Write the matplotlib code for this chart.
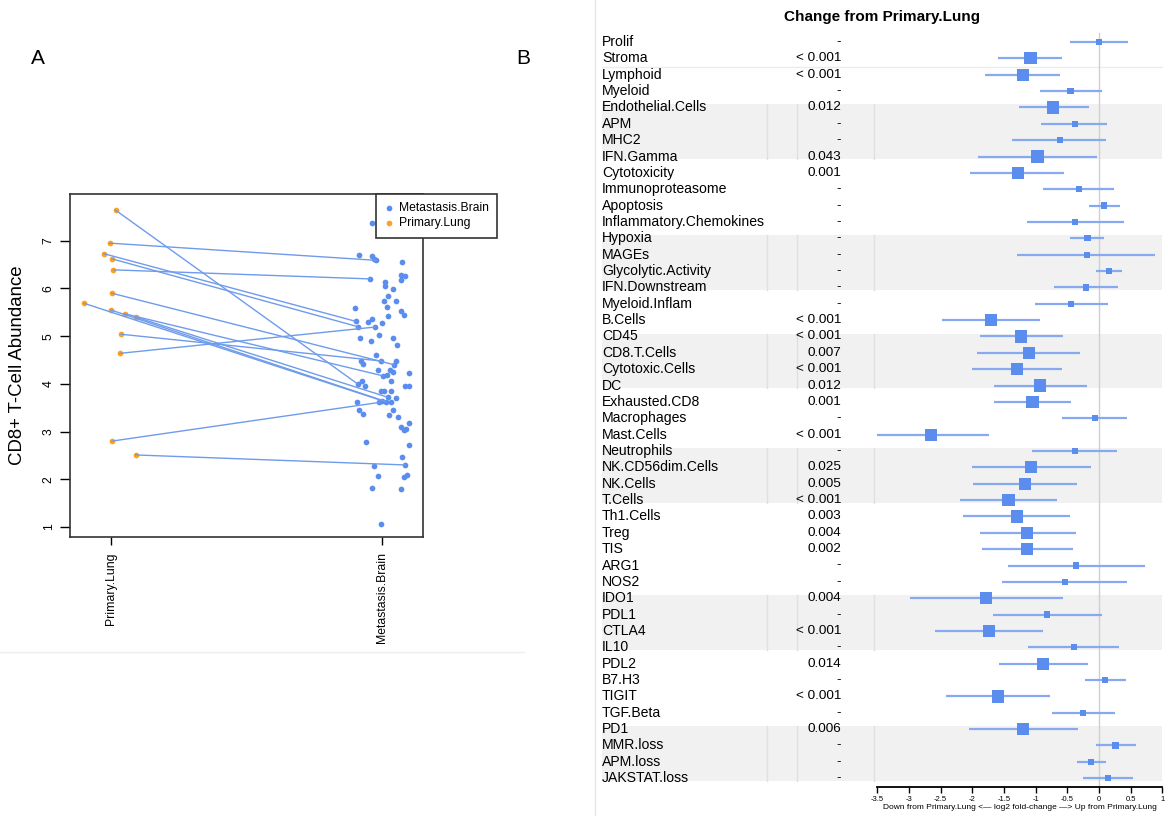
import numpy as np
import matplotlib.pyplot as plt
from matplotlib.patches import Rectangle
from matplotlib.transforms import blended_transform_factory

plt.rcParams['font.family'] = ['Liberation Sans', 'DejaVu Sans']

# ---------------- panel A data ----------------
primary_jitter = [0.018, -0.004, -0.026, 0.005, 0.010, 0.004, -0.099,
                  0.000, 0.051, 0.092, 0.038, 0.034, 0.004, 0.092]
primary_vals = [7.64, 6.95, 6.73, 6.62, 6.39, 5.90, 5.69,
                5.55, 5.47, 5.40, 5.04, 4.64, 2.80, 2.51]

brain_jitter = [0.961, 0.915, 0.962, 0.971, 0.977, 1.072, 1.069, 1.085, 0.956, 1.069,
                1.011, 1.011, 1.038, 1.020, 1.005, 1.050, 1.017, 0.901, 1.069, 1.081,
                1.022, 0.964, 0.903, 0.946, 0.998, 0.909, 0.972, 0.988, 0.919, 1.038,
                0.958, 1.056, 0.977, 0.922, 0.995, 0.928, 1.050, 1.044, 0.985, 1.029,
                1.097, 1.038, 1.017, 1.001, 1.032, 0.925, 0.909, 0.938, 1.085, 1.097,
                0.995, 1.005, 1.032, 1.050, 1.020, 0.906, 0.988, 0.998, 1.013, 1.032,
                0.913, 1.038, 0.928, 1.026, 1.059, 1.099, 1.069, 1.079, 1.087, 0.940,
                1.097, 1.071, 0.971, 1.085, 0.983, 1.090, 1.081, 0.962, 1.069, 0.995]
brain_vals = [7.38, 6.71, 6.67, 6.62, 6.59, 6.55, 6.29, 6.27, 6.20, 6.18,
              6.13, 6.06, 5.99, 5.85, 5.73, 5.73, 5.62, 5.60, 5.52, 5.45,
              5.43, 5.36, 5.31, 5.29, 5.27, 5.20, 5.19, 5.03, 4.96, 4.96,
              4.89, 4.82, 4.60, 4.48, 4.48, 4.42, 4.48, 4.40, 4.30, 4.30,
              4.23, 4.24, 4.19, 4.17, 4.07, 4.05, 4.00, 3.95, 3.95, 3.96,
              3.84, 3.84, 3.86, 3.70, 3.72, 3.63, 3.61, 3.65, 3.63, 3.61,
              3.46, 3.46, 3.37, 3.35, 3.30, 3.19, 3.09, 3.04, 3.05, 2.79,
              2.72, 2.46, 2.27, 2.30, 2.07, 2.09, 2.05, 1.81, 1.80, 1.06]

# matched samples: primary index -> brain index
pair_primary = [0, 1, 2, 3, 4, 5, 6, 7, 8, 9, 10, 11, 12, 13]
pair_brain = [46, 4, 22, 25, 8, 37, 57, 58, 43, 54, 34, 26, 56, 73]

group_labels = ['Primary.Lung', 'Metastasis.Brain']

# ---------------- panel B data ----------------
signatures = ['Prolif', 'Stroma', 'Lymphoid', 'Myeloid', 'Endothelial.Cells', 'APM', 'MHC2',
              'IFN.Gamma', 'Cytotoxicity', 'Immunoproteasome', 'Apoptosis',
              'Inflammatory.Chemokines', 'Hypoxia', 'MAGEs', 'Glycolytic.Activity',
              'IFN.Downstream', 'Myeloid.Inflam', 'B.Cells', 'CD45', 'CD8.T.Cells',
              'Cytotoxic.Cells', 'DC', 'Exhausted.CD8', 'Macrophages', 'Mast.Cells',
              'Neutrophils', 'NK.CD56dim.Cells', 'NK.Cells', 'T.Cells', 'Th1.Cells', 'Treg',
              'TIS', 'ARG1', 'NOS2', 'IDO1', 'PDL1', 'CTLA4', 'IL10', 'PDL2', 'B7.H3',
              'TIGIT', 'TGF.Beta', 'PD1', 'MMR.loss', 'APM.loss', 'JAKSTAT.loss']
log2fc = [0.00, -1.08, -1.20, -0.45, -0.72, -0.38, -0.62, -0.97, -1.28, -0.32, 0.08,
          -0.38, -0.18, -0.19, 0.16, -0.21, -0.44, -1.71, -1.23, -1.11, -1.30, -0.93,
          -1.05, -0.06, -2.65, -0.38, -1.07, -1.17, -1.43, -1.30, -1.14, -1.14, -0.36,
          -0.54, -1.78, -0.82, -1.74, -0.40, -0.88, 0.09, -1.60, -0.25, -1.20, 0.26,
          -0.12, 0.14]
ci_low = [-0.46, -1.59, -1.80, -0.93, -1.27, -0.91, -1.37, -1.91, -2.03, -0.89, -0.16,
          -1.14, -0.45, -1.29, -0.04, -0.71, -1.01, -2.48, -1.88, -1.92, -2.01, -1.66,
          -1.66, -0.58, -3.57, -1.05, -2.01, -1.99, -2.19, -2.14, -1.88, -1.85, -1.44,
          -1.53, -2.99, -1.68, -2.59, -1.12, -1.58, -0.22, -2.42, -0.74, -2.06, -0.05,
          -0.35, -0.26]
ci_high = [0.46, -0.58, -0.61, 0.04, -0.16, 0.13, 0.11, -0.03, -0.55, 0.24, 0.33,
           0.39, 0.08, 0.88, 0.37, 0.30, 0.14, -0.93, -0.57, -0.30, -0.59, -0.19,
           -0.44, 0.45, -1.73, 0.28, -0.13, -0.35, -0.66, -0.45, -0.37, -0.41, 0.73,
           0.44, -0.57, 0.04, -0.88, 0.32, -0.18, 0.42, -0.78, 0.25, -0.33, 0.58,
           0.11, 0.54]
pvals = ['-', '< 0.001', '< 0.001', '-', '0.012', '-', '-', '0.043', '0.001', '-', '-',
         '-', '-', '-', '-', '-', '-', '< 0.001', '< 0.001', '0.007', '< 0.001', '0.012',
         '0.001', '-', '< 0.001', '-', '0.025', '0.005', '< 0.001', '0.003', '0.004',
         '0.002', '-', '-', '0.004', '-', '< 0.001', '-', '0.014', '-', '< 0.001', '-',
         '0.006', '-', '-', '-']
shaded_groups = [(4, 7), (12, 15), (18, 21), (25, 28), (34, 37), (42, 45)]

W, H = 1168, 816
fig = plt.figure(figsize=(W / 100, H / 100), dpi=100)


def rect(x0, y0, x1, y1):
    # pixel box (top-left origin) -> figure fraction
    return [x0 / W, 1 - y1 / H, (x1 - x0) / W, (y1 - y0) / H]


# full-figure layer for decorations, in pixels
bg = fig.add_axes([0, 0, 1, 1])
bg.set_xlim(0, W)
bg.set_ylim(H, 0)
bg.axis('off')
bg.text(38, 58, 'A', fontsize=15, ha='center', va='center')
bg.text(523, 58, 'B', fontsize=15, ha='center', va='center')
bg.plot([595, 595], [0, H], color='#e6e6e6', lw=1)
bg.plot([0, 524], [652, 652], color='#eeeeee', lw=1)

# ---------------- panel A ----------------
ax = fig.add_axes(rect(70, 194, 423, 537))
blue_pt = '#5b8def'
line_c = '#6f9bec'
orange = '#ffa21f'
ax.scatter(brain_jitter, brain_vals, s=17, color=blue_pt, lw=0, zorder=2,
           label='Metastasis.Brain')
ax.scatter(primary_jitter, primary_vals, s=17, color=orange, lw=0, zorder=2,
           label='Primary.Lung')
for i, j in zip(pair_primary, pair_brain):
    ax.plot([primary_jitter[i], brain_jitter[j]], [primary_vals[i], brain_vals[j]],
            color=line_c, lw=1, zorder=3)

ax.set_xlim(-0.15, 1.15)
ax.set_ylim(0.79, 7.98)
ax.set_xticks([0, 1])
ax.set_xticklabels(group_labels, rotation=90, fontsize=8.8, va='top')
ax.set_yticks(range(1, 8))
ax.set_yticklabels([str(v) for v in range(1, 8)], rotation=90, fontsize=8.8, va='center')
ax.tick_params(axis='y', length=7, width=1, pad=4)
ax.tick_params(axis='x', length=6, width=1, pad=5)
for s in ax.spines.values():
    s.set_linewidth(1.2)
    s.set_color('#333333')
ax.set_ylabel('CD8+ T-Cell Abundance', fontsize=13.4)
ax.yaxis.set_label_coords(-0.125, 0.5)
leg = ax.legend(loc='upper left', bbox_to_anchor=(0.867, 1.0), borderaxespad=0,
                fontsize=8.7, frameon=True, fancybox=False, edgecolor='#333333',
                framealpha=1, handlelength=0.8, handletextpad=0.4, borderpad=0.7,
                labelspacing=0.25, scatterpoints=1)
leg.get_frame().set_linewidth(1.2)
leg.set_zorder(5)

# ---------------- panel B ----------------
n = len(signatures)
rows = np.arange(n)
fa = fig.add_axes(rect(877.3, 33, 1162.3, 787.3))
fa.patch.set_alpha(0)
fa.set_xlim(-3.5, 1)
fa.set_ylim((787.3 - 42) / 16.36, (33 - 42) / 16.36)
for side in ['top', 'right', 'left']:
    fa.spines[side].set_visible(False)
fa.spines['bottom'].set_linewidth(1.3)
fa.set_yticks([])
fa.axvline(0, color='#cfcfcf', lw=1, zorder=1)
fa.hlines(rows, ci_low, ci_high, color='#86a9ef', lw=1.6, zorder=2)
sizes = [78 if p != '-' else 20 for p in pvals]
fa.scatter(log2fc, rows, marker='s', s=sizes, color='#5b8def', lw=0, zorder=3)
ticks = np.arange(-3.5, 1.01, 0.5)
fa.set_xticks(ticks)
fa.set_xticklabels(['%g' % t for t in ticks], fontsize=5.5)
fa.tick_params(axis='x', length=4, width=1, pad=2)
fa.set_xlabel('Down from Primary.Lung <\u2014 log2 fold-change \u2014> Up from Primary.Lung',
              fontsize=6, labelpad=1)

trans = blended_transform_factory(bg.transData, fa.transData)
for a, b in shaded_groups:
    bg.add_patch(Rectangle((602, a - 0.18), 1162 - 602, (b - a) + 0.33,
                           transform=trans, color='#f1f1f1', lw=0, zorder=0))
    for xd in [767, 797, 874]:
        bg.plot([xd, xd], [a - 0.18, b + 0.15], transform=trans, color='#e0e0e0',
                lw=1, zorder=1)
bg.plot([602, 1162], [1.53, 1.53], transform=trans, color='#ececec', lw=1, zorder=1)

for i, (lab, p) in enumerate(zip(signatures, pvals)):
    bg.text(602, i, lab, transform=trans, fontsize=10.1, va='center', ha='left', zorder=2)
    bg.text(841, i, p, transform=trans, fontsize=9.7, va='center', ha='right', zorder=2)

bg.text(882, 17, 'Change from Primary.Lung', fontsize=11, fontweight='bold',
        ha='center', va='center')

fig.savefig('out.png', dpi=100)
